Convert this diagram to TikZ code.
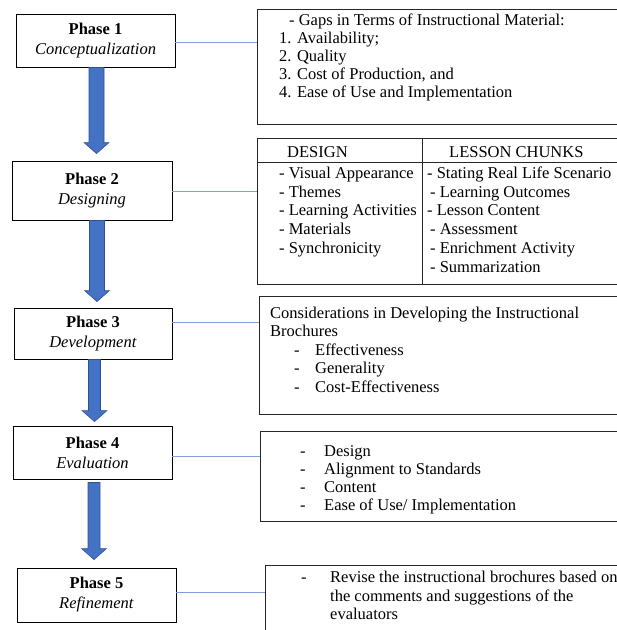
\documentclass[tikz,border=0pt]{standalone}
\usepackage{fontspec}
\setmainfont{Liberation Serif}
\usetikzlibrary{calc}
\definecolor{arrfill}{HTML}{4472C4}
\definecolor{arrline}{HTML}{2F528F}
\definecolor{connblue}{HTML}{7F9FD6}
% #1 start, #2 tip, #3 shaft half width, #4 head half width
\newcommand{\myblockarrow}[4]{%
  \filldraw[blk] ($(#1)+(-#3,0)$) -- ($(#2)+(-#3,-11)$) -- ($(#2)+(-#4,-11)$) -- (#2)
    -- ($(#2)+(#4,-11)$) -- ($(#2)+(#3,-11)$) -- ($(#1)+(#3,0)$) -- cycle;}
\newcommand{\dsh}{\makebox[24pt][l]{-}}
\begin{document}
\begin{tikzpicture}[x=1pt,y=-1pt,
  phase/.style={draw=black, line width=0.9pt, inner sep=0pt, align=center,
    font=\fontsize{16.5}{20}\selectfont},
  rbox/.style={draw=black!85, line width=1pt, anchor=north west, inner sep=0pt},
  txt/.style={anchor=north west, inner sep=0pt, align=left,
    font=\fontsize{16.5}{18.8}\selectfont},
  conn/.style={draw=connblue, line width=1pt},
  blk/.style={fill=arrfill, draw=arrline, line width=0.6pt}]
\useasboundingbox (0,0) rectangle (617,630);
\clip (0,0) rectangle (617,630);

% phase boxes
\node[phase, minimum width=159pt, minimum height=53pt] (p1) at (95.5,40.5)
  {\textbf{Phase 1}\\\textit{Conceptualization}};
\node[phase, minimum width=160pt, minimum height=59pt] (p2) at (92,190.5)
  {\textbf{Phase 2}\\\textit{Designing}};
\node[phase, minimum width=158pt, minimum height=51pt] (p3) at (93,333.5)
  {\textbf{Phase 3}\\\textit{Development}};
\node[phase, minimum width=159pt, minimum height=53pt] (p4) at (92.5,452.5)
  {\textbf{Phase 4}\\\textit{Evaluation}};
\node[phase, minimum width=159pt, minimum height=54pt] (p5) at (96.5,595)
  {\textbf{Phase 5}\\\textit{Refinement}};

% right boxes
\node[rbox, minimum width=383pt, minimum height=115pt] (d1) at (257,9) {};
\node[rbox, minimum width=383pt, minimum height=146pt] (d2) at (257,138) {};
\node[rbox, minimum width=381pt, minimum height=118pt] (d3) at (259,296) {};
\node[rbox, minimum width=380pt, minimum height=90pt] (d4) at (260,431) {};
\node[rbox, minimum width=375pt, minimum height=90pt] (d5) at (265,565) {};

% table lines in box 2
\draw[draw=black!85, line width=1pt] (d2.west |- 0,162) coordinate (h1) -- (h1 -| d2.east);
\draw[draw=black!85, line width=1pt] (422,0 |- d2.north) coordinate (v1) -- (v1 |- d2.south);

% connectors
\draw[conn] ($(p1.north east)!0.53!(p1.south east)$) coordinate (c1) -- (c1 -| d1.west);
\draw[conn] ($(p2.north east)!0.51!(p2.south east)$) coordinate (c2) -- (c2 -| d2.west);
\draw[conn] ($(p3.north east)!0.29!(p3.south east)$) coordinate (c3) -- (c3 -| d3.west);
\draw[conn] ($(p4.north east)!0.58!(p4.south east)$) coordinate (c4) -- (c4 -| d4.west);
\draw[conn] ($(p5.north east)!0.46!(p5.south east)$) coordinate (c5) -- (c5 -| d5.west);

% block arrows
\coordinate (a1s) at ($(p1.south)+(1,0)$);
\coordinate (a1e) at ($(a1s |- p2.north)+(0,-7)$);
\myblockarrow{a1s}{a1e}{7.5}{12.5}
\coordinate (a2s) at ($(p2.south)+(5,0)$);
\coordinate (a2e) at ($(a2s |- p3.north)+(0,-6)$);
\myblockarrow{a2s}{a2e}{7.5}{12.5}
\coordinate (a3s) at ($(p3.south)+(1.5,0)$);
\coordinate (a3e) at ($(a3s |- p4.north)+(0,-4)$);
\myblockarrow{a3s}{a3e}{6}{12.5}
\coordinate (a4s) at ($(p4.south)+(1.5,3)$);
\coordinate (a4e) at ($(a4s |- p5.north)+(0,-8)$);
\myblockarrow{a4s}{a4e}{6}{12.5}

% texts box 1
\node[txt, font=\fontsize{16.5}{18}\selectfont] (t1) at (279,12.5)
  {\strut\hspace*{10pt}- Gaps in Terms of Instructional Material:\\
1. Availability;\\2. Quality\\3. Cost of Production, and\\4. Ease of Use and Implementation};

% texts box 2
\node[txt] (t2a) at (287,144) {\strut DESIGN};
\node[txt] (t2b) at (449,144) {\strut LESSON CHUNKS};
\node[txt] (t2c) at (279,165) {\strut - Visual Appearance\\- Themes\\- Learning Activities\\- Materials\\- Synchronicity};
\node[txt] (t2d) at (427,165) {\strut - Stating Real Life Scenario\\
\hspace*{3pt}- Learning Outcomes\\- Lesson Content\\\hspace*{3pt}- Assessment\\
\hspace*{3pt}- Enrichment Activity\\\hspace*{3pt}- Summarization};

% texts box 3
\node[txt, font=\fontsize{16.5}{18.5}\selectfont] (t3) at (270,305)
  {\strut Considerations in Developing the Instructional\\Brochures\\
\hspace*{24pt}\makebox[21pt][l]{-}Effectiveness\\\hspace*{24pt}\makebox[21pt][l]{-}Generality\\
\hspace*{24pt}\makebox[21pt][l]{-}Cost-Effectiveness};

% texts box 4
\node[txt, font=\fontsize{16.5}{18}\selectfont] (t4) at (300,444)
  {\strut\dsh Design\\\dsh Alignment to Standards\\\dsh Content\\\dsh Ease of Use/ Implementation};

% texts box 5
\node[txt] (t5) at (301,569) {\strut\makebox[29pt][l]{-}Revise the instructional brochures based on\\
\hspace*{29pt}the comments and suggestions of the\\\hspace*{29pt}evaluators};
\end{tikzpicture}
\end{document}
